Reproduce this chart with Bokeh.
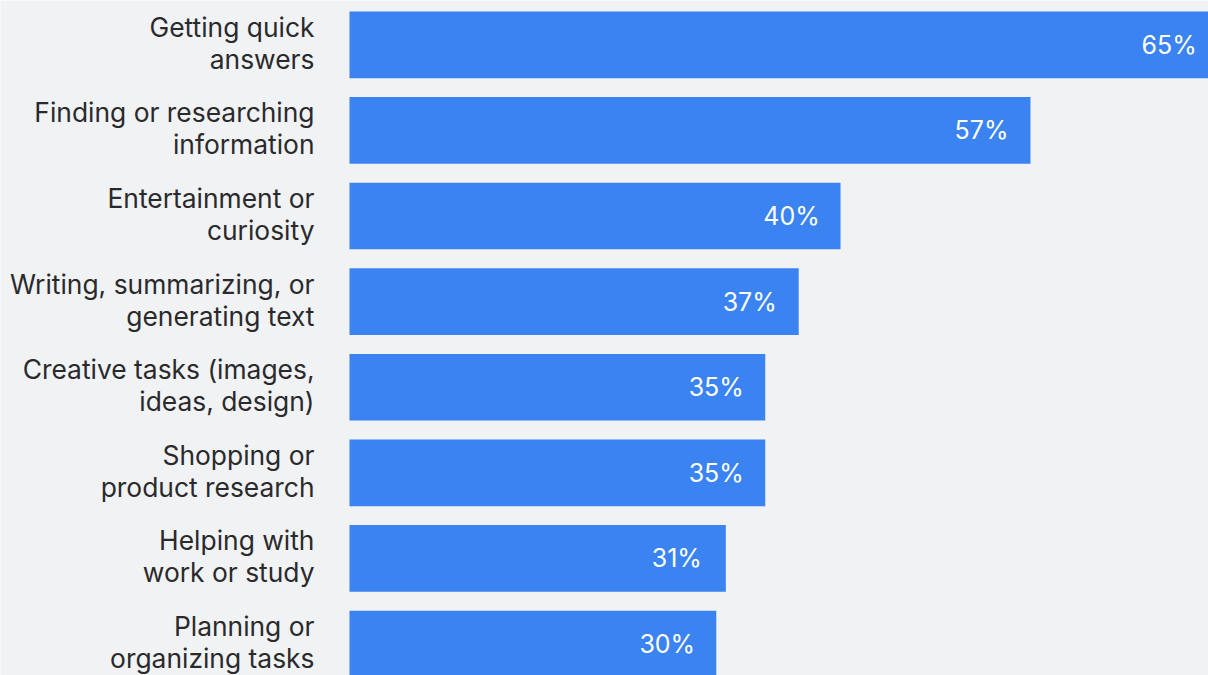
from bokeh.plotting import figure
from bokeh.models import ColumnDataSource, Range1d
from bokeh.core.properties import value
from bokeh.embed import file_html
from bokeh.resources import INLINE

# ---- data ----
categories = [
    "Getting quick\nanswers",
    "Finding or researching\ninformation",
    "Entertainment or\ncuriosity",
    "Writing, summarizing, or\ngenerating text",
    "Creative tasks (images,\nideas, design)",
    "Shopping or\nproduct research",
    "Helping with\nwork or study",
    "Planning or\norganizing tasks",
]
value_labels = ["65%", "57%", "40%", "37%", "35%", "35%", "31%", "30%"]
# drawn bar lengths as measured on the picture (axis units)
bar_lengths = [72.7, 57.0, 41.1, 37.6, 34.8, 34.8, 31.5, 30.7]

BG = "#f1f2f4"
BAR = "#3a83f1"
TXT = "#2a2a2c"
FONT = "Inter"

rows = list(range(len(categories)))
src = ColumnDataSource(dict(
    row=rows,
    cat=categories,
    length=bar_lengths,
    label=value_labels,
    zero=[0] * len(rows),
))

W, H = 1208, 675
p = figure(
    width=W, height=H,
    output_backend="svg", toolbar_location=None,
    x_range=Range1d(-29.21, 71.9),
    y_range=Range1d(7.368, -0.518),
    min_border=0, min_border_left=0, min_border_right=0,
    min_border_top=0, min_border_bottom=0,
    background_fill_color=BG, border_fill_color=BG,
    outline_line_color=None,
)
p.axis.visible = False
p.grid.visible = False

p.hbar(y="row", left="zero", right="length", height=0.779, source=src,
       fill_color=BAR, line_color=None)

# category labels to the left of the bars
p.text(x="zero", y="row", text="cat", source=src,
       x_offset=-35, y_offset=-2, text_align="right", text_baseline="middle",
       text_font=value(FONT), text_font_size="26.4px", text_color=TXT,
       text_line_height=1.0)

# value labels inside the bars
p.text(x="length", y="row", text="label", source=src,
       x_offset=-49, text_align="center", text_baseline="middle",
       text_font=value(FONT), text_font_size="25px", text_color="#ffffff")

html = file_html(p, INLINE)
html = html.replace("<body>", f'<body style="background:{BG};">', 1)
open("out.html", "w").write(html)
